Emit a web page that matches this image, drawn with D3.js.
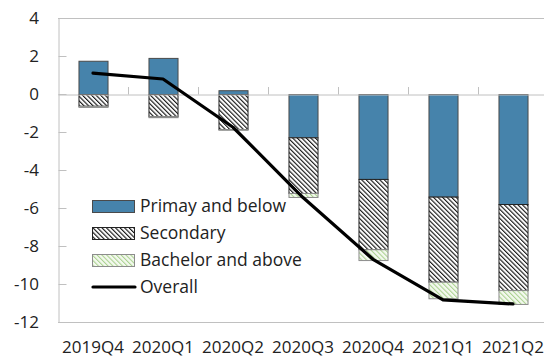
<!DOCTYPE html>
<html>
<head>
<meta charset="utf-8">
<script src="https://cdn.jsdelivr.net/npm/d3@7"></script>
<style>
  html, body { margin: 0; padding: 0; background: #fff; overflow: hidden; }
  svg { display: block; font-family: "Open Sans", "Noto Sans", sans-serif; }
</style>
</head>
<body>
<svg id="chart" width="544" height="358"></svg>
<script>
// Contributions to the overall change, by education level (percentage points)
const quarters = ["2019Q4", "2020Q1", "2020Q2", "2020Q3", "2020Q4", "2021Q1", "2021Q2"];
const primary   = [1.75, 1.9, 0.2, -2.28, -4.47, -5.4, -5.79];
const secondary = [-0.62, -1.17, -1.85, -2.93, -3.70, -4.48, -4.53];
const bachelor  = [-0.06, -0.05, -0.03, -0.21, -0.57, -0.87, -0.73];
const overall   = [1.1, 0.79, -1.75, -5.45, -8.7, -10.84, -11.05];
const yTicks = [4, 2, 0, -2, -4, -6, -8, -10, -12];
const seriesNames = ["Primay and below", "Secondary", "Bachelor and above"];
const lineName = "Overall";

const svg = d3.select("#chart");
const margin = { left: 58, top: 18, bottom: 322, right: 548 };

const x = d3.scaleBand().domain(quarters).range([margin.left, margin.right])
  .paddingInner(0.585).paddingOuter(0.2925);
const xc = d3.scaleBand().domain(quarters).range([margin.left, margin.right]);
const y = d3.scaleLinear().domain([-12, 4]).range([margin.bottom, margin.top]);

// hatch patterns
const defs = svg.append("defs");
function hatch(id, bg, stroke, w, sw) {
  const p = defs.append("pattern").attr("id", id).attr("patternUnits", "userSpaceOnUse")
    .attr("width", w).attr("height", w).attr("patternTransform", "rotate(-45)");
  p.append("rect").attr("width", w).attr("height", w).attr("fill", bg);
  p.append("line").attr("x1", 0.5).attr("y1", 0).attr("x2", 0.5).attr("y2", w)
    .attr("stroke", stroke).attr("stroke-width", sw);
}
hatch("hatchSec", "#ffffff", "#1a1a1a", 3.2, 1.3);
hatch("hatchBach", "#f4f9ef", "#a9d18e", 3.4, 1.1);

const fills = ["#4683ab", "url(#hatchSec)", "url(#hatchBach)"];
const strokes = ["#4a4a4a", "#222", "#8c8c8c"];

// plot frame
const grid = "#c0c0c0";
svg.append("line").attr("x1", margin.left).attr("x2", margin.right)
  .attr("y1", y(4) + 0.5).attr("y2", y(4) + 0.5).attr("stroke", grid);
svg.append("line").attr("x1", margin.left).attr("x2", margin.right)
  .attr("y1", y(-12) + 0.5).attr("y2", y(-12) + 0.5).attr("stroke", grid);

// y axis with inward ticks
const yAxis = svg.append("g").attr("transform", `translate(${margin.left + 0.5},0)`)
  .call(d3.axisRight(y).tickValues(yTicks).tickSize(8).tickFormat(""));
yAxis.select(".domain").attr("stroke", grid);
yAxis.selectAll(".tick line").attr("stroke", grid);
svg.append("g").selectAll("text").data(yTicks).join("text")
  .attr("x", 39).attr("y", d => y(d)).attr("dy", "0.36em")
  .attr("text-anchor", "end").attr("font-size", 17).attr("fill", "#222")
  .text(d => d);

// stacked bars (diverging)
const rows = quarters.map((q, i) => ({ q, s0: primary[i], s1: secondary[i], s2: bachelor[i] }));
const stack = d3.stack().keys(["s0", "s1", "s2"]).offset(d3.stackOffsetDiverging);
const layers = stack(rows);

layers.forEach((layer, k) => {
  svg.append("g").selectAll("rect").data(layer).join("rect")
    .attr("x", d => x(d.data.q) + 0.5)
    .attr("width", x.bandwidth())
    .attr("y", d => y(Math.max(d[0], d[1])) + 0.5)
    .attr("height", d => Math.abs(y(d[0]) - y(d[1])))
    .attr("fill", fills[k])
    .attr("stroke", strokes[k]).attr("stroke-width", 1);
});

// zero line with category ticks
const xAxis = svg.append("g").attr("transform", `translate(0,${y(0) + 0.5})`)
  .call(d3.axisTop(xc).tickSize(0).tickFormat(""));
xAxis.select(".domain").attr("stroke", grid);
svg.append("g").selectAll("line").data(quarters.slice(1)).join("line")
  .attr("x1", d => Math.round(xc(d)) + 0.5).attr("x2", d => Math.round(xc(d)) + 0.5)
  .attr("y1", y(0) - 7).attr("y2", y(0) + 0.5).attr("stroke", grid);

// category labels along the bottom
svg.append("g").selectAll("text").data(quarters).join("text")
  .attr("x", d => xc(d) + xc.bandwidth() / 2).attr("y", 353)
  .attr("text-anchor", "middle").attr("font-size", 17).attr("fill", "#222")
  .text(d => d);

// overall line
const line = d3.line().x((d, i) => xc(quarters[i]) + xc.bandwidth() / 2).y(d => y(d));
svg.append("path").datum(overall).attr("d", line)
  .attr("fill", "none").attr("stroke", "#000").attr("stroke-width", 3.2)
  .attr("stroke-linejoin", "round").attr("stroke-linecap", "round");

// legend
const legend = svg.append("g");
const rowY = [206, 233, 260, 287];
seriesNames.forEach((name, k) => {
  legend.append("rect").attr("x", 92.5).attr("y", rowY[k] - 5.5).attr("width", 42).attr("height", 12)
    .attr("fill", fills[k]).attr("stroke", strokes[k]);
});
legend.append("line").attr("x1", 93).attr("x2", 135).attr("y1", rowY[3]).attr("y2", rowY[3])
  .attr("stroke", "#000").attr("stroke-width", 3.2).attr("stroke-linecap", "round");
legend.selectAll("text").data(seriesNames.concat([lineName])).join("text")
  .attr("x", 140).attr("y", (d, i) => rowY[i]).attr("dy", "0.36em")
  .attr("font-size", 17.5).attr("fill", "#222").text(d => d);
</script>
</body>
</html>
